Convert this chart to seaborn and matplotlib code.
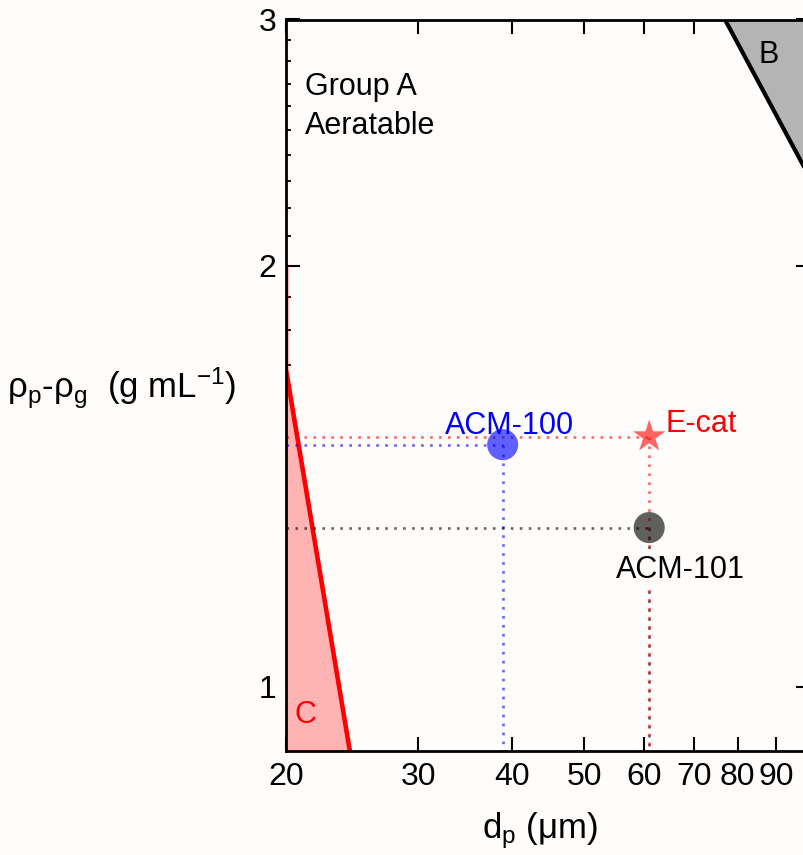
import numpy as np
import pandas as pd
import matplotlib
matplotlib.use("Agg")
import matplotlib.pyplot as plt
import seaborn as sns
from matplotlib.ticker import FixedLocator, FixedFormatter, NullLocator, NullFormatter

# ---------------- data ----------------
x_ticks = [20, 30, 40, 50, 60, 70, 80, 90]
x_tick_labels = ["20", "30", "40", "50", "60", "70", "80", "90"]
y_major = [1, 2, 3]
y_major_labels = ["1", "2", "3"]
y_minor = [0.9, 1.1, 1.2, 1.3, 1.4, 1.5, 1.6, 1.7, 1.8, 1.9,
           2.1, 2.2, 2.3, 2.4, 2.5, 2.6, 2.7, 2.8, 2.9]
x_lim = (20, 100)
y_lim = (0.9, 3)

samples = ["ACM-100", "ACM-101"]
sample_dp = [38.9, 61.0]
sample_drho = [1.49, 1.30]
sample_colors = ["#0000ff", "#000000"]

ecat_name = ["E-cat"]
ecat_dp = [61.0]
ecat_drho = [1.51]

# Geldart boundaries
b_dp = [74.0, 110.0]       # A/B boundary
b_drho = [3.12, 2.10]
c_dp = [20.0, 20.0, 24.77]  # C/A boundary
c_drho = [2.0, 1.686, 0.85]

bg = "#fefdfb"

# ---------------- style ----------------
sns.set_theme(style="ticks")
plt.rcParams["font.family"] = ["Liberation Sans", "DejaVu Sans"]
plt.rcParams["mathtext.fontset"] = "custom"
plt.rcParams["mathtext.rm"] = "Liberation Sans"
plt.rcParams["mathtext.it"] = "Liberation Sans:italic"
plt.rcParams["mathtext.bf"] = "Liberation Sans:bold"

W, H = 804, 855
fig = plt.figure(figsize=(W / 100, H / 100), dpi=100, facecolor=bg)
ax_left, ax_bottom = 286, 104
ax_w, ax_h = 524.2, 731.5
ax = fig.add_axes([ax_left / W, ax_bottom / H, ax_w / W, ax_h / H])
ax.set_facecolor(bg)
ax.set_xscale("log")
ax.set_yscale("log")
ax.set_xlim(*x_lim)
ax.set_ylim(*y_lim)

# Group B region
ax.fill(b_dp + [b_dp[-1], b_dp[0]], b_drho + [3.3, 3.3],
        color="#b4b4b4", lw=0, zorder=1)
ax.plot(b_dp, b_drho, color="black", lw=3, zorder=2)

# Group C region
ax.fill(c_dp + [c_dp[0]], c_drho + [c_drho[-1]],
        color="#ffb3b3", lw=0, zorder=1)
ax.plot(c_dp, c_drho, color="red", lw=3.3, zorder=2)

# dotted guide lines
dot = (0, (1, 2.4))
guide = list(zip(sample_dp, sample_drho, sample_colors)) + \
    list(zip(ecat_dp, ecat_drho, ["#ff0000"]))
for xv, yv, col in guide:
    ax.plot([x_lim[0], xv], [yv, yv], ls=dot, lw=1.9, color=col,
            alpha=0.6, zorder=3)
    ax.plot([xv, xv], [yv, y_lim[0]], ls=dot, lw=1.9, color=col,
            alpha=0.6, zorder=3)

# markers
df = pd.DataFrame({"dp": sample_dp, "drho": sample_drho, "sample": samples})
sns.scatterplot(data=df, x="dp", y="drho", hue="sample",
                palette=dict(zip(samples, sample_colors)),
                s=500, alpha=0.62, edgecolor="none", legend=False,
                ax=ax, zorder=5)
dfe = pd.DataFrame({"dp": ecat_dp, "drho": ecat_drho})
sns.scatterplot(data=dfe, x="dp", y="drho", marker="*", s=600,
                color="#ff0000", alpha=0.6, edgecolor="none",
                legend=False, ax=ax, zorder=5)
ax.set_xlabel("")
ax.set_ylabel("")

# labels for points
ax.annotate(samples[0], (sample_dp[0], sample_drho[0]), xytext=(5, 8),
            textcoords="offset points", ha="center", va="baseline",
            fontsize=22, color="#0000ff", zorder=6)
ax.annotate(ecat_name[0], (ecat_dp[0], ecat_drho[0]), xytext=(11.5, 3.6),
            textcoords="offset points", ha="left", va="baseline",
            fontsize=22, color="#ff0000", zorder=6)
ax.annotate(samples[1], (sample_dp[1], sample_drho[1]), xytext=(22.7, -36),
            textcoords="offset points", ha="center", va="baseline",
            fontsize=22, color="black", zorder=6,
            bbox=dict(boxstyle="square,pad=0.1", fc=bg, ec="none"))

# region labels
ax.text(0.0362, 0.928, "Group A\nAeratable", transform=ax.transAxes,
        ha="left", va="top", fontsize=22, color="black", linespacing=1.4)
ax.text(0.921, 0.9405, "B", transform=ax.transAxes, ha="center",
        va="baseline", fontsize=22, color="black", zorder=6)
ax.text(0.0362, 0.0383, "C", transform=ax.transAxes, ha="center",
        va="baseline", fontsize=22, color="red", zorder=6)

# ticks
ax.xaxis.set_major_locator(FixedLocator(x_ticks))
ax.xaxis.set_major_formatter(FixedFormatter(x_tick_labels))
ax.xaxis.set_minor_locator(NullLocator())
ax.xaxis.set_minor_formatter(NullFormatter())
ax.yaxis.set_major_locator(FixedLocator(y_major))
ax.yaxis.set_major_formatter(FixedFormatter(y_major_labels))
ax.yaxis.set_minor_locator(FixedLocator(y_minor))
ax.yaxis.set_minor_formatter(NullFormatter())

ax.tick_params(which="major", direction="in", length=10, width=1.5,
               top=True, right=True, labelsize=23, colors="black")
ax.tick_params(axis="x", which="major", pad=8)
ax.tick_params(axis="y", which="major", pad=7)
ax.tick_params(axis="y", which="minor", direction="in", length=3.8,
               width=1.3, left=True, right=False, color="black")

for sp in ax.spines.values():
    sp.set_visible(True)
    sp.set_linewidth(2)
    sp.set_color("black")
    sp.set_zorder(7)

# axis titles
fig.text(540 / W, 1 - 838 / H, "d$_\\mathrm{p}$ (μm)", ha="center",
         va="baseline", fontsize=25, color="black")
fig.text(236 / W, 1 - 388 / H,
         "ρ$_\\mathrm{p}$-ρ$_\\mathrm{g}$  (g mL$^\\mathrm{-1}$)",
         ha="right", va="center", fontsize=25, color="black")

fig.savefig("out.png", dpi=100, facecolor=bg)
